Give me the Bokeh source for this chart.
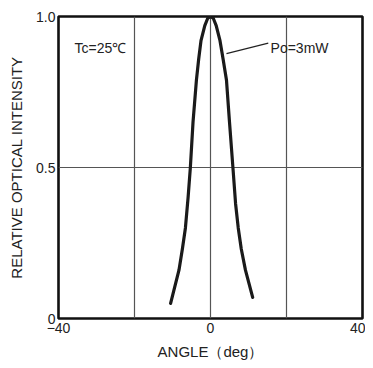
from bokeh.plotting import figure
from bokeh.models import Range1d, FixedTicker, Label
from bokeh.embed import file_html
from bokeh.resources import INLINE

# Data
angle = [-10.5, -8.3, -7.4, -6.6, -5.9, -5.3, -4.6, -3.7, -3.1, -2.5, -1.5, -0.7, 0.0,
         0.7, 1.5, 2.5, 3.3, 4.2, 5.0, 5.9, 6.6, 7.3, 8.1, 9.2, 11.1]
intensity = [0.05, 0.16, 0.23, 0.30, 0.40, 0.50, 0.65, 0.79, 0.86, 0.92, 0.97, 0.995, 1.0,
             0.995, 0.97, 0.92, 0.86, 0.79, 0.65, 0.50, 0.38, 0.30, 0.23, 0.16, 0.07]

x_ticks = [-40, 0, 40]
x_grid = [-20, 0, 20]
y_ticks = [0, 0.5, 1.0]
y_tick_labels = {0: "0", 0.5: "0.5", 1: "1.0"}
x_title = "ANGLE（deg）"
y_title = "RELATIVE OPTICAL INTENSITY"
cond_text = "Tc=25℃"
curve_text = "Po=3mW"

FONT = "Liberation Sans"

p = figure(width=365, height=362, output_backend="svg", toolbar_location=None,
           x_range=Range1d(-40, 40), y_range=Range1d(0, 1),
           min_border_left=58, min_border_right=3, min_border_top=16, min_border_bottom=44)

p.background_fill_color = "white"
p.border_fill_color = "white"
p.outline_line_color = "#111111"
p.outline_line_width = 2.6

# axes
for ax in (p.xaxis[0], p.yaxis[0]):
    ax.axis_line_color = None
    ax.major_tick_line_color = None
    ax.minor_tick_line_color = None
    ax.major_tick_out = 0
    ax.major_tick_in = 0
    ax.major_label_text_font = FONT
    ax.major_label_text_font_size = "14px"
    ax.major_label_text_color = "#222222"
    ax.axis_label_text_font = FONT
    ax.axis_label_text_font_size = "15px"
    ax.axis_label_text_font_style = "normal"
    ax.axis_label_text_color = "#222222"
p.xaxis.ticker = FixedTicker(ticks=x_ticks)
p.yaxis.ticker = FixedTicker(ticks=y_ticks)
p.yaxis.major_label_overrides = y_tick_labels
p.xaxis.major_label_standoff = 4
p.yaxis.major_label_standoff = 3
p.xaxis.axis_label = x_title
p.yaxis.axis_label = y_title
p.xaxis.axis_label_standoff = 7
p.yaxis.axis_label_standoff = 8

# grid
p.xgrid.ticker = FixedTicker(ticks=x_grid)
p.ygrid.ticker = FixedTicker(ticks=[0.5])
p.xgrid.grid_line_color = "#555555"
p.ygrid.grid_line_color = "#555555"
p.xgrid.grid_line_width = 1.2
p.ygrid.grid_line_width = 1.2

# curve
p.line(angle, intensity, line_color="#1a1a1a", line_width=3.2, line_join="round", line_cap="round")

# leader line
p.line([4.2, 15.2], [0.877, 0.912], line_color="#222222", line_width=1.2)

p.add_layout(Label(x=15.8, y=0.897, text=curve_text, text_font=FONT, text_font_size="14px",
                   text_color="#222222", text_baseline="middle", text_align="left"))
p.add_layout(Label(x=-35.8, y=0.897, text=cond_text, text_font=FONT, text_font_size="14px",
                   text_color="#222222", text_baseline="middle", text_align="left"))

open("out.html", "w").write(file_html(p, INLINE))
